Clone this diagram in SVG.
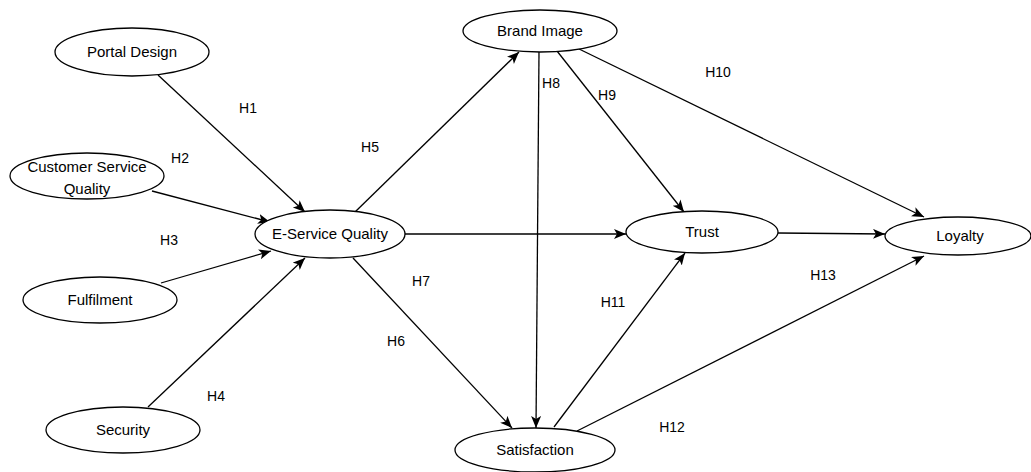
<svg xmlns="http://www.w3.org/2000/svg" width="1031" height="472" viewBox="0 0 1031 472">
<style>
.n ellipse{fill:#fff;stroke:#000;stroke-width:1.3}
.n text{font-family:"Liberation Sans",Arial,sans-serif;font-size:15px;fill:#000;text-anchor:middle}
.e line{stroke:#000;stroke-width:1.3;marker-end:url(#ah)}
.lbl{font-family:"Liberation Sans",Arial,sans-serif;font-size:14px;fill:#000}
</style>
<defs>
<marker id="ah" markerUnits="userSpaceOnUse" markerWidth="14" markerHeight="12" refX="12" refY="5" orient="auto">
<path d="M0,0 L12,5 L0,10 L3,5 z" fill="#000"/>
</marker>
</defs>
<rect width="1031" height="472" fill="#fff"/>
<g class="e" id="connectors">
<line x1="158" y1="75" x2="305" y2="212"/>
<line x1="152" y1="191" x2="270" y2="222"/>
<line x1="161" y1="283" x2="271" y2="251"/>
<line x1="148" y1="407" x2="305" y2="258"/>
<line x1="354" y1="213" x2="519" y2="52"/>
<line x1="405" y1="234" x2="626" y2="234"/>
<line x1="353" y1="258" x2="512" y2="428"/>
<line x1="539" y1="52" x2="536" y2="428"/>
<line x1="557" y1="51" x2="684" y2="212"/>
<line x1="577" y1="48" x2="924" y2="217"/>
<line x1="778" y1="233" x2="885" y2="234"/>
<line x1="554" y1="427" x2="685" y2="253"/>
<line x1="577" y1="431" x2="924" y2="256"/>
</g>
<g id="labels">
<text class="lbl" x="248" y="113" text-anchor="middle">H1</text>
<text class="lbl" x="180" y="163" text-anchor="middle">H2</text>
<text class="lbl" x="169" y="245" text-anchor="middle">H3</text>
<text class="lbl" x="216" y="401" text-anchor="middle">H4</text>
<text class="lbl" x="370" y="152" text-anchor="middle">H5</text>
<text class="lbl" x="396" y="346" text-anchor="middle">H6</text>
<text class="lbl" x="421" y="286" text-anchor="middle">H7</text>
<text class="lbl" x="551" y="88" text-anchor="middle">H8</text>
<text class="lbl" x="607" y="100" text-anchor="middle">H9</text>
<text class="lbl" x="718" y="77" text-anchor="middle">H10</text>
<text class="lbl" x="613" y="307" text-anchor="middle">H11</text>
<text class="lbl" x="672" y="432" text-anchor="middle">H12</text>
<text class="lbl" x="823" y="280" text-anchor="middle">H13</text>
</g>
<g class="n" id="portal-design"><ellipse cx="132" cy="52" rx="77" ry="24"/><text x="132" y="57">Portal Design</text></g>
<g class="n" id="customer-service-quality"><ellipse cx="87" cy="176" rx="77" ry="23"/><text x="87" y="172">Customer Service</text><text x="87" y="194">Quality</text></g>
<g class="n" id="fulfilment"><ellipse cx="100" cy="300" rx="77" ry="23"/><text x="100" y="305">Fulfilment</text></g>
<g class="n" id="security"><ellipse cx="123" cy="430" rx="77" ry="23"/><text x="123" y="435">Security</text></g>
<g class="n" id="e-service-quality"><ellipse cx="330" cy="234" rx="75" ry="24"/><text x="330" y="239">E-Service Quality</text></g>
<g class="n" id="brand-image"><ellipse cx="540" cy="31" rx="77" ry="21"/><text x="540" y="36">Brand Image</text></g>
<g class="n" id="trust"><ellipse cx="702" cy="232" rx="76" ry="21"/><text x="702" y="237">Trust</text></g>
<g class="n" id="loyalty"><ellipse cx="958" cy="236" rx="73" ry="19"/><text x="960" y="241">Loyalty</text></g>
<g class="n" id="satisfaction"><ellipse cx="535" cy="450" rx="80" ry="22"/><text x="535" y="455">Satisfaction</text></g>
</svg>
